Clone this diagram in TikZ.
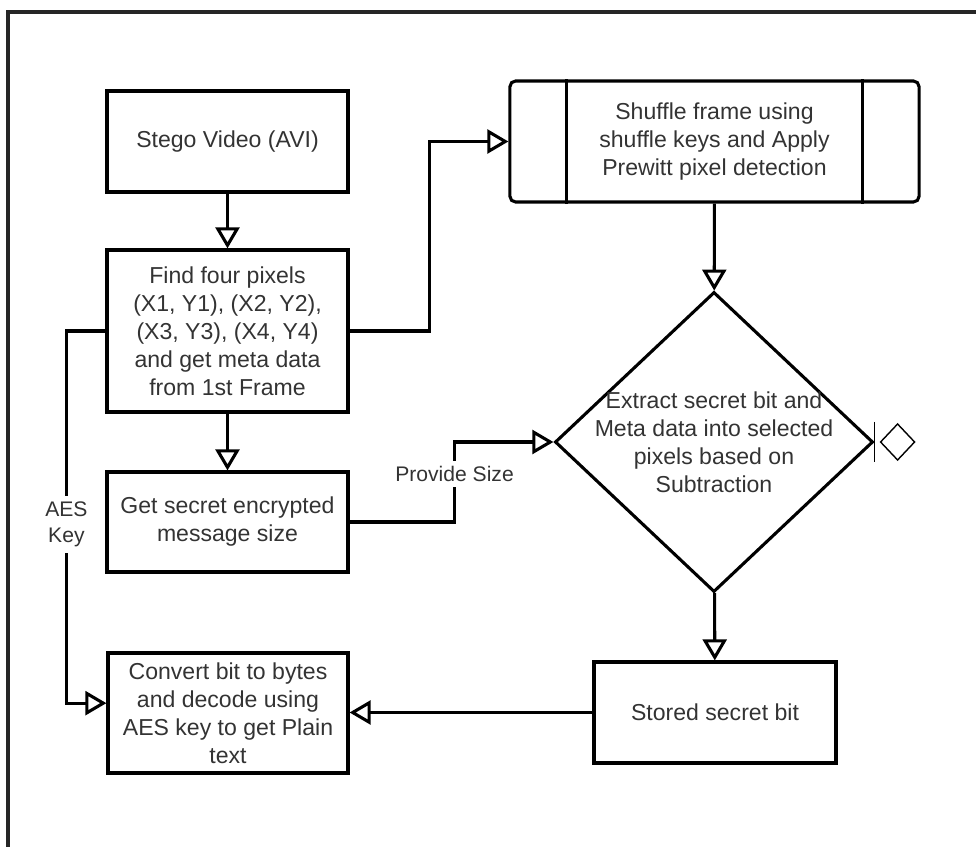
\documentclass[tikz,border=0pt]{standalone}
\usepackage{fontspec}
\setmainfont{Liberation Sans}
\usetikzlibrary{arrows.meta,shapes.geometric}

\begin{document}
\begin{tikzpicture}[x=0.025cm,y=-0.025cm,
	every node/.style={text=black!80,font=\fontsize{16.4}{19.9}\selectfont},
	box/.style={draw=black,line width=2.2pt,align=center,inner sep=0pt},
	proc/.style={box,rounded corners=4pt},
	decision/.style={box,diamond},
	flow/.style={line width=2.2pt,-{Triangle[open,length=15pt,width=17pt,line width=2.2pt]}},
	lbl/.style={fill=white,align=center,inner xsep=1.5pt,inner ysep=4pt,font=\fontsize{15}{18.5}\selectfont}]
				\useasboundingbox (0,0) rectangle (976,847);
				\draw[line width=2.2pt,black!85] (8,847)--(8,12)--(976,12);
				\node[box,minimum width=6.025cm,minimum height=2.525cm] (stego) at (227.5,141.5){Stego Video (AVI)};
				\node[box,minimum width=6.025cm,minimum height=4.05cm] (find) at (227.5,331){Find four pixels\\(X1, Y1), (X2, Y2),\\(X3, Y3), (X4, Y4)\\and get meta data\\from 1st Frame};
				\node[box,minimum width=6.025cm,minimum height=2.5cm] (size) at (227.5,522){Get secret encrypted\\message size};
				\node[box,minimum width=6cm,minimum height=3cm] (convert) at (228,713){Convert bit to bytes\\and decode using\\AES key to get Plain\\text};
				\node[proc,minimum width=10.225cm,minimum height=3.025cm] (shuffle) at (714.5,141.5){Shuffle frame using\\shuffle keys and Apply\\Prewitt pixel detection};
				\draw[line width=2.2pt] ([xshift=1.45cm]shuffle.north west)--([xshift=1.45cm]shuffle.south west);
				\draw[line width=2.2pt] ([xshift=-1.45cm]shuffle.north east)--([xshift=-1.45cm]shuffle.south east);
				\node[decision,minimum width=7.95cm,minimum height=7.5cm,label={[align=center]center:Extract secret bit and\\Meta data into selected\\pixels based on\\Subtraction}] (extract) at (714,442){};
				\draw[line width=1pt] (extract.east) ++(0,-20)--++(0,40);
				\draw[line width=1pt] (extract.east) ++(6,0)--++(17,-18)--++(17,18)--++(-17,18)--cycle;
				\node[box,minimum width=6.05cm,minimum height=2.525cm] (stored) at (715,712.5){Stored secret bit};
				\draw[flow] (stego)--(find);
				\draw[flow] (find.east)--++(80,0)|-(shuffle.west);
				\draw[flow] (find)--(size);
				\draw[flow] (size.east)--++(105,0)|-(extract.west)node[lbl,pos=0.3]{Provide Size};
				\draw[flow] (find.west)--++(-39,0)|-([yshift=7pt]convert.west)node[lbl,pos=0.26]{AES\\Key};
				\draw[flow] (shuffle)--(extract);
				\draw[flow] (extract)--(stored);
				\draw[flow] (stored.west)--(stored.west -| convert.east);
			\end{tikzpicture}
\end{document}
